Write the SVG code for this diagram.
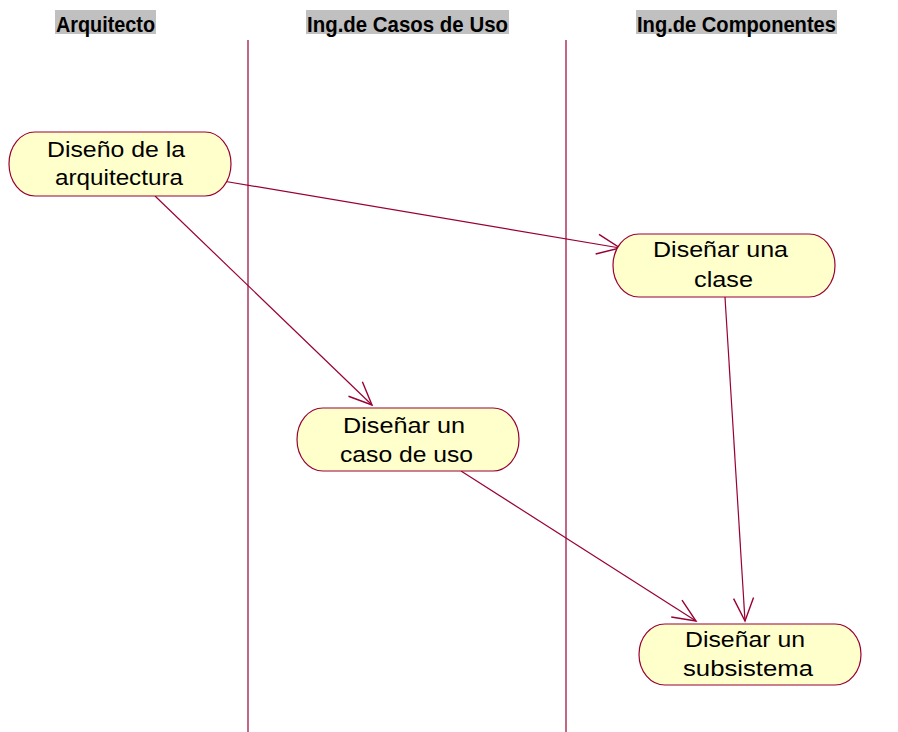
<svg xmlns="http://www.w3.org/2000/svg" width="898" height="732" viewBox="0 0 898 732">
<defs>
<style>
.hdrbg{fill:#c0c0c0;}
.hdr{font-family:"Liberation Sans",Arial,sans-serif;font-weight:bold;font-size:22px;fill:#000;}
.lane{stroke:#990033;stroke-width:1.2;fill:none;}
.node{fill:#ffffcc;stroke:#990033;stroke-width:1.2;}
.lbl{font-family:"Liberation Sans",Arial,sans-serif;font-size:22px;fill:#000;text-anchor:middle;}
.edge{stroke:#990033;stroke-width:1.2;fill:none;marker-end:url(#arr);}
</style>
<marker id="arr" markerUnits="userSpaceOnUse" viewBox="-26 -13 28 26" markerWidth="28" markerHeight="26" refX="0" refY="0" orient="auto">
<path d="M-23,-10 L0,0 L-23,10" fill="none" stroke="#990033" stroke-width="1.4"/>
</marker>
</defs>
<rect width="898" height="732" fill="#ffffff"/>
<g id="headers">
<rect class="hdrbg" x="55" y="10" width="101" height="24"/>
<text class="hdr" x="56" y="32" textLength="99" lengthAdjust="spacingAndGlyphs">Arquitecto</text>
<rect class="hdrbg" x="306" y="10" width="203" height="24"/>
<text class="hdr" x="307" y="32" textLength="201" lengthAdjust="spacingAndGlyphs">Ing.de Casos de Uso</text>
<rect class="hdrbg" x="636" y="10" width="201" height="24"/>
<text class="hdr" x="637" y="32" textLength="199" lengthAdjust="spacingAndGlyphs">Ing.de Componentes</text>
</g>
<g id="lanes">
<line class="lane" x1="248" y1="40" x2="248" y2="732"/>
<line class="lane" x1="566" y1="40" x2="566" y2="732"/>
</g>
<g id="connectors">
<line class="edge" x1="223" y1="181" x2="620" y2="248"/>
<line class="edge" x1="155" y1="196" x2="372" y2="405"/>
<line class="edge" x1="461" y1="471" x2="696" y2="621"/>
<line class="edge" x1="725" y1="297" x2="745" y2="621"/>
</g>
<g id="n1">
<path class="node" d="M35,132 H205 A26,32 0 0 1 205,196 H35 A26,32 0 0 1 35,132 Z"/>
<text class="lbl" x="116" y="157" textLength="138" lengthAdjust="spacingAndGlyphs">Diseño de la</text>
<text class="lbl" x="119" y="185" textLength="128" lengthAdjust="spacingAndGlyphs">arquitectura</text>
</g>
<g id="n2">
<path class="node" d="M639,234 H809 A26,31.5 0 0 1 809,297 H639 A26,31.5 0 0 1 639,234 Z"/>
<text class="lbl" x="720.5" y="257" textLength="135" lengthAdjust="spacingAndGlyphs">Diseñar una</text>
<text class="lbl" x="723.5" y="287" textLength="59" lengthAdjust="spacingAndGlyphs">clase</text>
</g>
<g id="n3">
<path class="node" d="M323,408 H493 A26,31.5 0 0 1 493,471 H323 A26,31.5 0 0 1 323,408 Z"/>
<text class="lbl" x="404" y="433" textLength="122" lengthAdjust="spacingAndGlyphs">Diseñar un</text>
<text class="lbl" x="406.5" y="462" textLength="133" lengthAdjust="spacingAndGlyphs">caso de uso</text>
</g>
<g id="n4">
<path class="node" d="M665,624 H835 A26,30.5 0 0 1 835,685 H665 A26,30.5 0 0 1 665,624 Z"/>
<text class="lbl" x="745" y="647" textLength="120" lengthAdjust="spacingAndGlyphs">Diseñar un</text>
<text class="lbl" x="748" y="676" textLength="130" lengthAdjust="spacingAndGlyphs">subsistema</text>
</g>
</svg>
